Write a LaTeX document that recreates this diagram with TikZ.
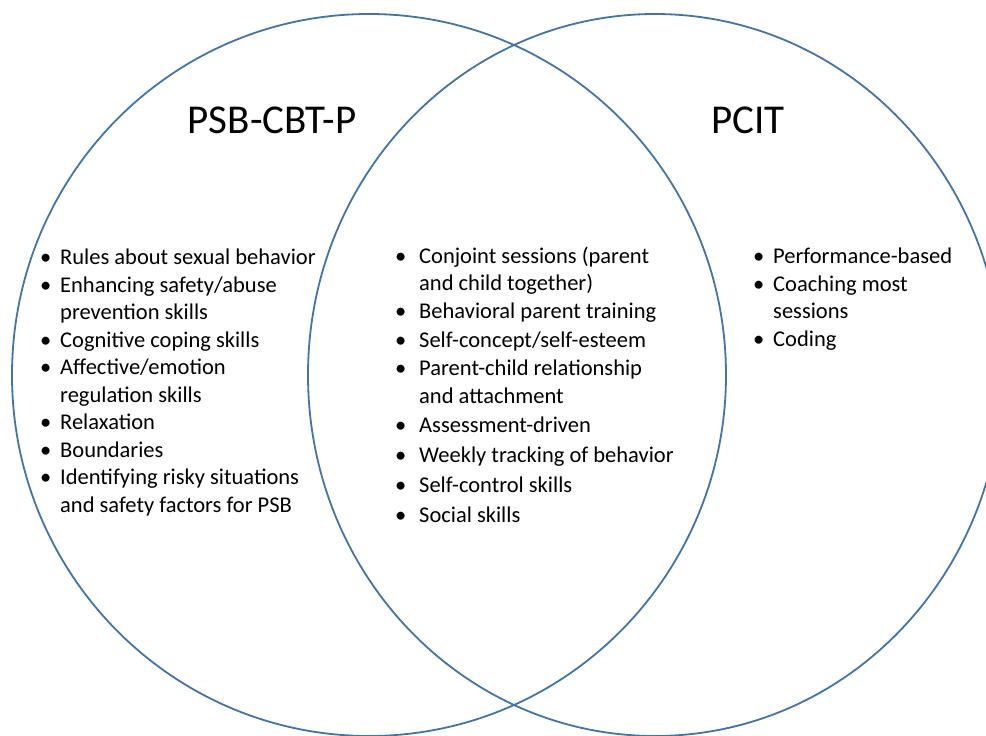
\documentclass[tikz,border=0pt]{standalone}
\usepackage{fontspec}
\setmainfont{Carlito}
\definecolor{VennBlue}{HTML}{4374A6}
\newcommand{\bul}{\makebox[20pt][l]{\textbullet}}
\newcommand{\cnt}{\hspace*{20pt}}
\newcommand{\bulm}{\makebox[24pt][l]{\textbullet}}
\newcommand{\cntm}{\hspace*{24pt}}

\begin{document}
\begin{tikzpicture}[
        x=1pt, y=-1pt,
        ring/.style={draw=VennBlue, line width=1.8pt},
        ttl/.style={font=\fontsize{41}{49}\selectfont, inner sep=0pt, anchor=base},
        lst/.style={align=left, inner sep=0pt, anchor=base west,
                    font=\fontsize{22.5}{27.5}\selectfont},
      ]
        \useasboundingbox (0,0) rectangle (986,736);
        \clip (0,0) rectangle (986,736);
        % two rings
        \draw[ring] (369,375) ellipse [x radius=357pt, y radius=361pt];
        \draw[ring] (655,375) ellipse [x radius=347pt, y radius=361pt];
        % titles
        \node[ttl] (psb)  at (272,133) {PSB-CBT-P};
        \node[ttl] (pcit) at (748,133) {PCIT};
        % left only (anchored at last baseline)
        \node[lst] (left) at (40,512) {%
          \bul Rules about sexual behavior\\
          \bul Enhancing safety/abuse\\
          \cnt prevention skills\\
          \bul Cognitive coping skills\\
          \bul Affective/emotion\\
          \cnt regulation skills\\
          \bul Relaxation\\
          \bul Boundaries\\
          \bul Identifying risky situations\\
          \cnt and safety factors for PSB};
        % shared
        \node[lst] (both) at (395,522) {%
          \bulm Conjoint sessions (parent\\
          \cntm and child together)\\[0.8pt]
          \bulm Behavioral parent training\\[0.8pt]
          \bulm Self-concept/self-esteem\\[0.8pt]
          \bulm Parent-child relationship\\[0.8pt]
          \cntm and attachment\\[0.8pt]
          \bulm Assessment-driven\\[2.5pt]
          \bulm Weekly tracking of behavior\\[2.5pt]
          \bulm Self-control skills\\[2.5pt]
          \bulm Social skills};
        % right only
        \node[lst] (right) at (753,346) {%
          \bul Performance-based\\
          \bul Coaching most\\
          \cnt sessions\\
          \bul Coding};
      \end{tikzpicture}
\end{document}
